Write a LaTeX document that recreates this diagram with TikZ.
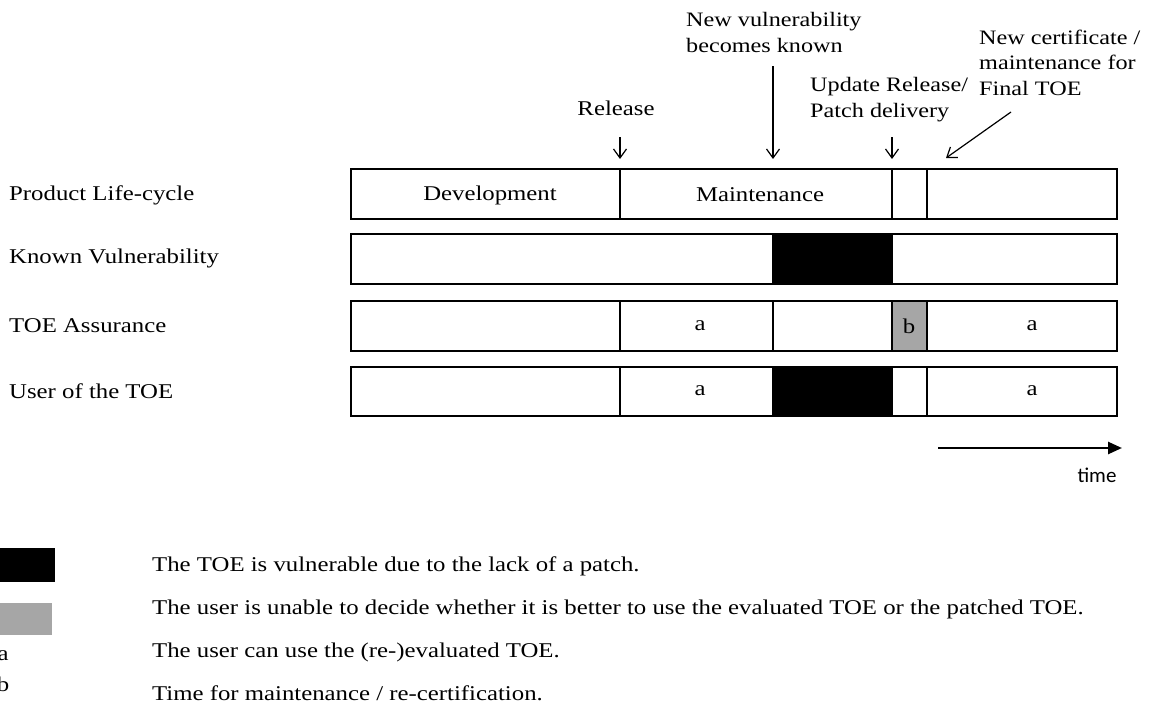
\documentclass[tikz,border=0pt]{standalone}
\usepackage{fontspec}
\setmainfont[FakeStretch=1.18]{Liberation Serif}
\newfontfamily\timefont{Carlito}
\usetikzlibrary{arrows.meta}
\tikzset{
  bar/.style={draw=black,line width=1.5pt},
  lbl/.style={inner sep=0pt,font=\fontsize{21}{26}\selectfont},
  top/.style={inner sep=0pt,font=\fontsize{20.5}{25.5}\selectfont,anchor=north west,align=left},
  tick/.style={line width=1.2pt,-{Straight Barb[length=9pt,width=13pt,line width=1.2pt]}},
}
\begin{document}
\begin{tikzpicture}[x=1pt,y=-1pt]
\useasboundingbox (0,0) rectangle (1168,704);
% row labels
\node[lbl,anchor=west] (l1) at (9,195) {Product Life-cycle};
\node[lbl,anchor=west] (l2) at (9,258) {Known Vulnerability};
\node[lbl,anchor=west] (l3) at (9,326) {TOE Assurance};
\node[lbl,anchor=west] (l4) at (9,391) {User of the TOE};
% row 1
\draw[bar] (351,169) rectangle (620,219);
\draw[bar] (620,169) rectangle (892,219);
\draw[bar] (892,169) rectangle (927,219);
\draw[bar] (927,169) rectangle (1117,219);
\node[lbl] (dev) at (490,195) {Development};
\node[lbl] (mnt) at (760,195) {Maintenance};
% row 2
\draw[bar] (351,234) rectangle (1117,284);
\draw[bar,fill=black] (773,234) rectangle (892,284);
% row 3
\draw[bar] (351,301) rectangle (620,351);
\draw[bar] (620,301) rectangle (773,351);
\draw[bar] (773,301) rectangle (892,351);
\draw[bar,fill={rgb,255:red,166;green,166;blue,166}] (892,301) rectangle (927,351);
\draw[bar] (927,301) rectangle (1117,351);
\node[lbl] (a1) at (700,326) {a};
\node[lbl] (b1) at (909,326) {b};
\node[lbl] (a2) at (1032,326) {a};
% row 4
\draw[bar] (351,367) rectangle (620,416);
\draw[bar] (620,367) rectangle (773,416);
\draw[bar,fill=black] (773,367) rectangle (892,416);
\draw[bar] (892,367) rectangle (927,416);
\draw[bar] (927,367) rectangle (1117,416);
\node[lbl] (a3) at (700,391) {a};
\node[lbl] (a4) at (1032,391) {a};
% top annotations
\node[lbl] (rel) at (616,108) {Release};
\node[top] (nv) at (686,12.5) {New vulnerability\\becomes known};
\node[top] (upd) at (810,77.5) {Update Release/\\Patch delivery};
\node[top] (cert) at (979,29.5) {New certificate /\\maintenance for\\Final TOE};
\coordinate (r0) at (620,137); \coordinate (r1) at (620,159);
\coordinate (v0) at (773,66); \coordinate (v1) at (773,159);
\coordinate (u0) at (892,137); \coordinate (u1) at (892,159);
\coordinate (c0) at (1011,112); \coordinate (c1) at (946,158);
\draw[tick] (r0) -- (r1);
\draw[tick] (v0) -- (v1);
\draw[tick] (u0) -- (u1);
\draw[tick] (c0) -- (c1);
% time arrow
\coordinate (t0) at (938,448); \coordinate (t1) at (1122,448);
\draw[line width=2.5pt,-{Triangle[length=14pt,width=12pt]}] (t0) -- (t1);
\node[inner sep=0pt,font=\timefont\fontsize{21}{24}\selectfont] (time) at (1097,475) {time};
% legend
\draw[line width=0.8pt,fill=black] (-2,548) rectangle (54,581);
\fill[fill={rgb,255:red,166;green,166;blue,166}] (-2,603) rectangle (52,635);
\node[lbl] (la) at (3,656) {a};
\node[lbl] (lb) at (3,684) {b};
\node[lbl,anchor=west] (t1a) at (152,566) {The TOE is vulnerable due to the lack of a patch.};
\node[lbl,anchor=west] (t2a) at (152,609) {The user is unable to decide whether it is better to use the evaluated TOE or the patched TOE.};
\node[lbl,anchor=west] (t3a) at (152,652) {The user can use the (re-)evaluated TOE.};
\node[lbl,anchor=west] (t4a) at (152,693) {Time for maintenance / re-certification.};
\end{tikzpicture}
\end{document}
